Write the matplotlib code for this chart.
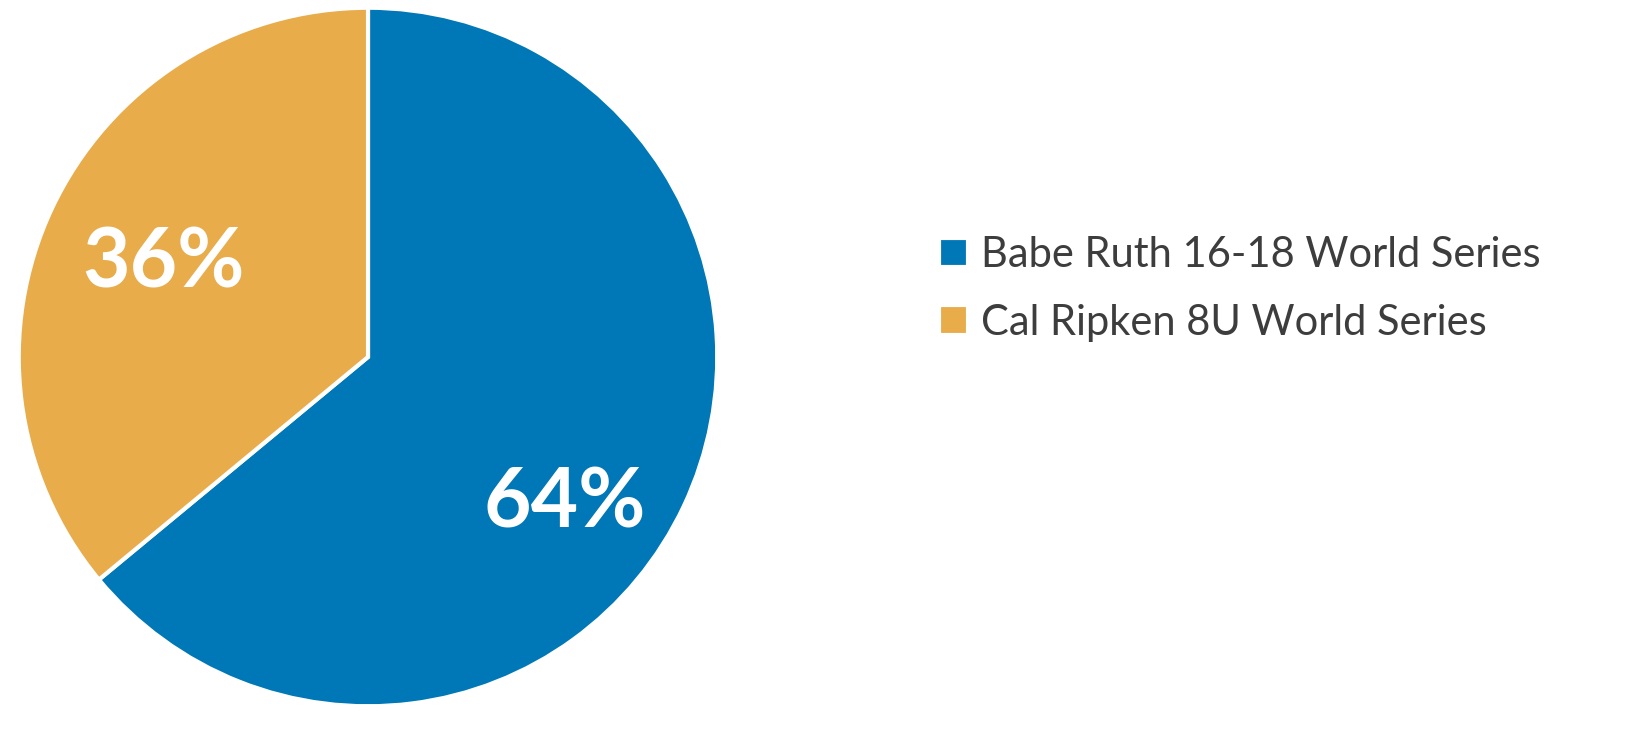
import numpy as np
import matplotlib.pyplot as plt

labels = ['Babe Ruth 16-18 World Series', 'Cal Ripken 8U World Series']
values = [64, 36]
colors = ['#0077B6', '#E8AC4B']

fig = plt.figure(figsize=(16.47, 7.42), dpi=100)
W, H = 1647, 742
cx, cy, r = 368, 357, 351
ax = fig.add_axes([(cx - r) / W, (H - cy - r) / H, 2 * r / W, 2 * r / H])

wedges, _ = ax.pie(values, colors=colors, startangle=90, counterclock=False,
                   wedgeprops=dict(edgecolor='white', linewidth=3))
ax.set_aspect('equal')
ax.set_xlim(-1.005, 1.005)
ax.set_ylim(-1.005, 1.005)

# label spots
pos = [(0.562, -0.42), (-0.585, 0.265)]
for v, (x, y) in zip(values, pos):
    ax.text(x, y, f'{v}%', color='white', fontsize=59, fontweight='bold',
            family='Lato', ha='center', va='center')

leg = fig.legend(wedges, labels, loc='center left', bbox_to_anchor=(901 / W, (H - 289) / H),
                 frameon=False, handlelength=0.7, handleheight=0.7,
                 handletextpad=0.33, labelspacing=0.7,
                 prop=dict(family='Lato', weight='normal', size=30))
for t in leg.get_texts():
    t.set_color('#3d3d3d')

fig.savefig('out.png', dpi=100)
